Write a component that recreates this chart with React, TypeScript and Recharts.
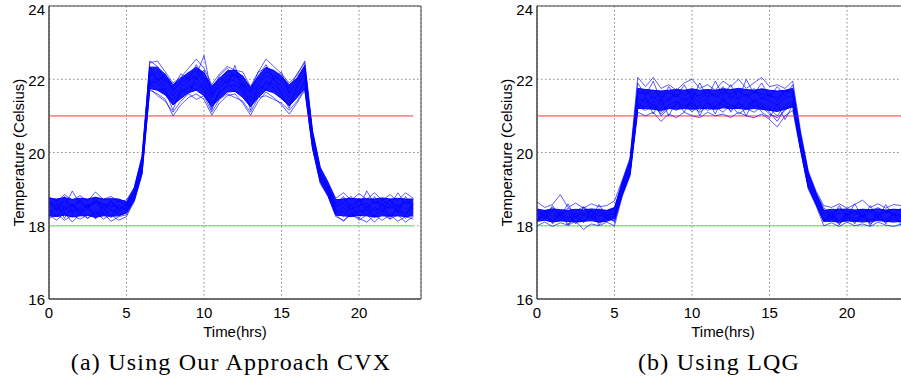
import React from 'react';
import { ComposedChart, Area, Line, XAxis, YAxis, CartesianGrid, ReferenceArea } from 'recharts';

// sample times (hrs)
const hours = [
  0, 0.5, 1, 1.5, 2, 2.5, 3, 3.5, 4, 4.5, 5, 5.5, 6, 6.5, 7, 7.5, 8, 8.5, 9, 9.5, 10, 10.5, 11, 11.5,
  12, 12.5, 13, 13.5, 14, 14.5, 15, 15.5, 16, 16.5, 17, 17.5, 18, 18.5, 19, 19.5, 20, 20.5, 21, 21.5, 22, 22.5, 23, 23.5,
];

const comfortUpper = 21;
const comfortLower = 18;
const xTicks = [0, 5, 10, 15, 20];
const yTicks = [16, 18, 20, 22, 24];

// (a) CVX: dense core of the runs
const cvxLo = [
  18.27, 18.25, 18.29, 18.24, 18.27, 18.28, 18.23, 18.27, 18.26, 18.27, 18.35, 18.7, 19.42, 21.75, 21.7, 21.57,
  21.3, 21.47, 21.63, 21.7, 21.55, 21.25, 21.47, 21.65, 21.67, 21.5, 21.25, 21.5, 21.7, 21.63, 21.47, 21.27,
  21.5, 21.75, 20.12, 19.2, 18.82, 18.29, 18.27, 18.25, 18.28, 18.27, 18.24, 18.27, 18.26, 18.27, 18.25, 18.27,
];
const cvxHi = [
  18.75, 18.73, 18.77, 18.72, 18.75, 18.73, 18.78, 18.73, 18.74, 18.73, 18.65, 19.03, 19.88, 22.33, 22.33, 22.13,
  21.85, 22.03, 22.18, 22.33, 22.18, 21.81, 22.03, 22.23, 22.25, 22.08, 21.78, 22.08, 22.33, 22.23, 22.08, 21.85,
  22.03, 22.38, 20.58, 19.58, 19.18, 18.71, 18.73, 18.75, 18.73, 18.74, 18.73, 18.76, 18.73, 18.75, 18.73, 18.73,
];
// (a) CVX: individual runs
const cvxRunA = [
  18.8, 18.65, 18.85, 18.7, 18.82, 18.68, 18.92, 18.72, 18.8, 18.66, 18.7, 19.05, 19.9, 22.45, 22.5, 22.2,
  21.9, 22.05, 22.3, 22.55, 22.3, 21.85, 22.15, 22.35, 22.25, 22.2, 21.8, 22.2, 22.55, 22.35, 22.15, 21.9,
  22.1, 22.5, 20.6, 19.6, 19.2, 18.75, 18.9, 18.7, 18.88, 18.72, 18.9, 18.7, 18.85, 18.68, 18.9, 18.75,
];
const cvxRunB = [
  18.2, 18.32, 18.15, 18.28, 18.18, 18.3, 18.22, 18.35, 18.12, 18.25, 18.3, 18.65, 19.4, 21.7, 21.6, 21.45,
  21.0, 21.3, 21.5, 21.6, 21.45, 21.02, 21.35, 21.55, 21.6, 21.35, 21.02, 21.4, 21.65, 21.5, 21.3, 21.05,
  21.35, 21.7, 20.1, 19.15, 18.8, 18.25, 18.15, 18.3, 18.2, 18.1, 18.28, 18.15, 18.3, 18.12, 18.25, 18.18,
];
const cvxRunC = [
  18.5, 18.6, 18.45, 18.58, 18.4, 18.55, 18.62, 18.48, 18.57, 18.5, 18.45, 18.85, 19.7, 22.1, 22.2, 21.85,
  21.55, 21.8, 21.95, 22.1, 22.65, 21.6, 21.8, 22.0, 21.95, 21.8, 21.5, 21.85, 22.1, 22.0, 21.8, 21.5,
  21.75, 22.15, 20.35, 19.4, 19.0, 18.5, 18.6, 18.45, 18.55, 18.62, 18.4, 18.55, 18.48, 18.6, 18.45, 18.55,
];
const cvxRunD = [
  18.35, 18.5, 18.4, 18.62, 18.36, 18.45, 18.3, 18.58, 18.42, 18.38, 18.5, 18.9, 19.6, 21.9, 21.7, 21.75,
  21.3, 21.6, 21.85, 21.7, 21.9, 21.35, 21.6, 21.85, 22.38, 21.6, 21.25, 21.6, 21.9, 21.75, 21.5, 21.3,
  21.5, 22.0, 20.25, 19.3, 18.95, 18.4, 18.5, 18.35, 18.45, 18.3, 18.5, 18.38, 18.55, 18.4, 18.35, 18.5,
];
const cvxRunE = [
  18.65, 18.45, 18.7, 18.55, 18.68, 18.52, 18.66, 18.6, 18.5, 18.68, 18.55, 18.95, 19.8, 22.2, 22.0, 22.05,
  21.7, 21.9, 22.05, 22.25, 21.95, 21.5, 21.9, 22.1, 22.1, 21.95, 21.6, 21.95, 22.2, 22.1, 21.95, 21.65,
  21.9, 22.25, 20.45, 19.45, 19.1, 18.6, 18.75, 18.55, 18.7, 18.5, 18.65, 18.6, 18.7, 18.5, 18.65, 18.6,
];
const cvxRunF = [
  18.42, 18.25, 18.52, 18.35, 18.5, 18.2, 18.4, 18.28, 18.45, 18.3, 18.35, 18.75, 19.5, 21.95, 21.9, 21.6,
  21.45, 21.65, 21.75, 21.9, 21.7, 21.2, 21.65, 21.8, 21.85, 21.7, 21.4, 21.7, 21.95, 21.85, 21.65, 21.4,
  21.65, 21.9, 20.2, 19.25, 18.9, 18.35, 18.4, 18.25, 18.38, 18.45, 18.22, 18.4, 18.28, 18.45, 18.2, 18.38,
];
const cvxRunG = [
  18.75, 18.4, 18.8, 18.38, 18.72, 18.45, 18.78, 18.35, 18.7, 18.42, 18.6, 18.95, 19.75, 22.35, 21.95, 22.15,
  21.65, 21.95, 22.2, 22.0, 22.25, 21.55, 22.05, 21.9, 22.2, 21.85, 21.65, 22.1, 22.4, 22.0, 22.2, 21.6,
  22.0, 22.3, 20.5, 19.5, 19.05, 18.6, 18.8, 18.4, 18.75, 18.38, 18.8, 18.42, 18.72, 18.36, 18.8, 18.45,
];
const cvxRunH = [
  18.25, 18.6, 18.2, 18.55, 18.28, 18.62, 18.18, 18.5, 18.22, 18.58, 18.4, 18.8, 19.55, 21.85, 22.05, 21.7,
  21.15, 21.75, 21.6, 22.05, 21.75, 21.15, 21.75, 21.95, 21.65, 21.9, 21.15, 21.85, 21.7, 22.05, 21.6, 21.2,
  21.85, 22.15, 20.3, 19.35, 18.92, 18.45, 18.25, 18.6, 18.2, 18.55, 18.25, 18.62, 18.18, 18.55, 18.28, 18.6,
];
const cvxRunI = [
  18.55, 18.7, 18.5, 18.95, 18.6, 18.48, 18.7, 18.55, 18.65, 18.45, 18.55, 18.9, 19.65, 22.5, 22.35, 21.95,
  21.75, 22.15, 22.0, 22.4, 22.05, 21.7, 22.1, 22.3, 22.05, 22.1, 21.7, 22.2, 22.3, 22.25, 22.1, 21.75,
  22.15, 22.45, 20.4, 19.45, 19.05, 18.55, 18.65, 18.8, 18.5, 18.95, 18.6, 18.7, 18.55, 18.9, 18.6, 18.7,
];
const cvxRunJ = [
  18.3, 18.15, 18.35, 18.1, 18.32, 18.2, 18.38, 18.18, 18.3, 18.15, 18.25, 18.7, 19.45, 21.75, 21.55, 21.4,
  21.1, 21.4, 21.6, 21.45, 21.55, 21.1, 21.45, 21.6, 21.5, 21.4, 21.1, 21.5, 21.55, 21.45, 21.35, 21.15,
  21.4, 21.75, 20.15, 19.2, 18.82, 18.3, 18.12, 18.35, 18.15, 18.3, 18.1, 18.32, 18.18, 18.3, 18.1, 18.25,
];

// (b) LQG: dense core of the runs
const lqgLo = [
  18.12, 18.15, 18.1, 18.13, 18.12, 18.1, 18.12, 18.14, 18.1, 18.12, 18.2, 18.85, 19.4, 21.2, 21.2, 21.18,
  21.15, 21.2, 21.18, 21.2, 21.18, 21.2, 21.2, 21.18, 21.22, 21.2, 21.2, 21.18, 21.2, 21.18, 21.15, 21.12,
  21.18, 21.25, 20.1, 19.05, 18.6, 18.12, 18.12, 18.1, 18.13, 18.12, 18.1, 18.12, 18.14, 18.12, 18.1, 18.12,
];
const lqgHi = [
  18.45, 18.42, 18.46, 18.44, 18.42, 18.45, 18.43, 18.46, 18.44, 18.42, 18.5, 19.2, 19.8, 21.75, 21.72, 21.7,
  21.68, 21.7, 21.72, 21.7, 21.74, 21.7, 21.72, 21.7, 21.74, 21.72, 21.75, 21.72, 21.7, 21.74, 21.7, 21.68,
  21.7, 21.75, 20.5, 19.45, 18.9, 18.42, 18.45, 18.44, 18.46, 18.43, 18.45, 18.44, 18.46, 18.43, 18.45, 18.44,
];
// (b) LQG: individual runs
const lqgRunA = [
  18.65, 18.5, 18.58, 18.85, 18.5, 18.62, 18.48, 18.6, 18.52, 18.55, 18.68, 19.25, 19.85, 22.05, 21.8, 22.05,
  21.75, 21.85, 21.7, 21.9, 22.0, 21.75, 21.85, 21.7, 21.95, 21.8, 22.0, 21.75, 21.9, 22.05, 21.8, 21.85,
  21.75, 21.95, 20.6, 19.5, 18.95, 18.55, 18.5, 18.6, 18.48, 18.58, 18.7, 18.5, 18.6, 18.48, 18.58, 18.55,
];
const lqgRunB = [
  18.0, 18.1, 17.98, 18.08, 18.02, 18.12, 17.9, 18.05, 18.0, 18.1, 18.0, 18.8, 19.35, 21.1, 21.0, 21.1,
  20.85, 21.05, 20.95, 21.1, 21.0, 20.95, 21.1, 21.0, 21.05, 20.95, 21.1, 21.0, 20.95, 21.05, 20.9, 20.7,
  21.0, 21.15, 20.05, 19.0, 18.55, 18.0, 18.08, 17.98, 18.1, 18.0, 18.05, 17.98, 18.1, 18.02, 17.98, 18.05,
];
const lqgRunC = [
  18.3, 18.4, 18.25, 18.38, 18.22, 18.35, 18.28, 18.42, 18.26, 18.36, 18.3, 19.0, 19.6, 21.5, 21.35, 21.55,
  21.3, 21.45, 21.6, 21.4, 21.55, 21.35, 21.5, 21.6, 21.4, 21.55, 21.45, 21.6, 21.35, 21.5, 21.4, 21.3,
  21.5, 21.55, 20.3, 19.25, 18.75, 18.3, 18.22, 18.35, 18.28, 18.4, 18.25, 18.36, 18.24, 18.38, 18.3, 18.26,
];
const lqgRunD = [
  18.2, 18.3, 18.15, 18.32, 18.18, 18.25, 18.35, 18.2, 18.3, 18.22, 18.25, 18.95, 19.5, 21.35, 21.5, 21.25,
  21.1, 21.3, 21.4, 21.25, 21.35, 21.15, 21.35, 21.25, 21.4, 21.3, 21.2, 21.4, 21.25, 21.35, 21.2, 21.0,
  21.3, 21.4, 20.2, 19.15, 18.65, 18.2, 18.3, 18.15, 18.32, 18.2, 18.28, 18.15, 18.3, 18.18, 18.32, 18.2,
];
const lqgRunE = [
  18.45, 18.35, 18.5, 18.3, 18.48, 18.4, 18.52, 18.38, 18.46, 18.4, 18.45, 19.1, 19.7, 21.65, 21.6, 21.7,
  21.5, 21.65, 21.5, 21.7, 21.6, 21.55, 21.7, 21.5, 21.65, 21.6, 21.7, 21.5, 21.65, 21.6, 21.55, 21.5,
  21.65, 21.7, 20.45, 19.4, 18.85, 18.42, 18.35, 18.48, 18.4, 18.3, 18.45, 18.38, 18.5, 18.35, 18.45, 18.4,
];
const lqgRunF = [
  18.25, 18.2, 18.4, 18.15, 18.35, 18.05, 18.3, 18.12, 18.38, 18.2, 18.15, 18.9, 19.45, 21.3, 21.25, 21.4,
  21.0, 21.2, 21.3, 21.5, 21.25, 21.1, 21.25, 21.4, 21.3, 21.15, 21.35, 21.2, 21.45, 21.3, 21.1, 20.85,
  21.2, 21.35, 20.15, 19.1, 18.62, 18.15, 18.2, 18.05, 18.25, 18.12, 18.2, 18.08, 18.22, 18.1, 18.18, 18.12,
];
const lqgRunG = [
  18.5, 18.2, 18.55, 18.25, 18.6, 18.2, 18.5, 18.22, 18.58, 18.25, 18.5, 19.15, 19.75, 21.9, 21.55, 21.95,
  21.4, 21.8, 21.5, 21.85, 21.45, 21.9, 21.5, 21.95, 21.55, 21.85, 21.45, 22.0, 21.6, 21.9, 21.5, 21.8,
  21.55, 21.85, 20.5, 19.42, 18.88, 18.5, 18.2, 18.55, 18.25, 18.6, 18.22, 18.55, 18.2, 18.58, 18.25, 18.5,
];
const lqgRunH = [
  18.1, 18.4, 18.05, 18.38, 18.0, 18.35, 18.08, 18.42, 18.02, 18.3, 18.1, 18.85, 19.4, 21.2, 21.5, 21.05,
  21.45, 21.0, 21.4, 21.1, 21.5, 21.0, 21.45, 21.05, 21.5, 21.1, 21.4, 21.0, 21.45, 21.1, 20.95, 21.3,
  20.9, 21.3, 20.1, 19.05, 18.58, 18.1, 18.4, 18.02, 18.35, 18.05, 18.42, 18.0, 18.38, 18.05, 18.35, 18.0,
];
const lqgRunI = [
  18.35, 18.28, 18.45, 18.3, 18.4, 18.25, 18.5, 18.3, 18.4, 18.28, 18.35, 19.05, 19.65, 21.6, 21.7, 21.45,
  21.65, 21.4, 21.75, 21.55, 21.7, 21.45, 21.65, 21.55, 21.8, 21.45, 21.7, 21.55, 21.75, 21.45, 21.6, 21.4,
  21.7, 21.6, 20.35, 19.3, 18.78, 18.35, 18.3, 18.45, 18.32, 18.42, 18.28, 18.45, 18.3, 18.4, 18.35, 18.3,
];
const lqgRunJ = [
  18.15, 18.25, 18.1, 18.3, 18.05, 18.22, 18.12, 18.28, 18.08, 18.2, 18.12, 18.85, 19.45, 21.25, 21.15, 21.3,
  21.05, 21.25, 21.15, 21.35, 21.1, 21.3, 21.15, 21.25, 21.1, 21.3, 21.05, 21.2, 21.1, 21.25, 21.05, 20.95,
  21.15, 21.3, 20.1, 19.08, 18.6, 18.12, 18.25, 18.08, 18.22, 18.1, 18.28, 18.05, 18.2, 18.1, 18.25, 18.08,
];

const buildRows = (lo: number[], hi: number[], runs: number[][]) =>
  hours.map((t, i) => {
    const row: Record<string, any> = { t, band: [lo[i], hi[i]], upper: comfortUpper, lower: comfortLower };
    runs.forEach((r, k) => (row['run' + k] = r[i]));
    return row;
  });

const cvxRuns = [cvxRunA, cvxRunB, cvxRunC, cvxRunD, cvxRunE, cvxRunF, cvxRunG, cvxRunH, cvxRunI, cvxRunJ];
const lqgRuns = [lqgRunA, lqgRunB, lqgRunC, lqgRunD, lqgRunE, lqgRunF, lqgRunG, lqgRunH, lqgRunI, lqgRunJ];
const cvxRows = buildRows(cvxLo, cvxHi, cvxRuns);
const lqgRows = buildRows(lqgLo, lqgHi, lqgRuns);

const sans = '"Liberation Sans", Arial, Helvetica, sans-serif';

interface PanelProps {
  rows: Record<string, any>[];
  runCount: number;
  caption: string;
  left: number;
}

const Panel: React.FC<PanelProps> = ({ rows, runCount, caption, left }) => (
  <div style={{ position: 'absolute', left, top: 0, width: 462, height: 381 }}>
    <ComposedChart width={430} height={340} data={rows} margin={{ top: 6, right: 9, bottom: 0, left: 0 }}>
      <CartesianGrid stroke="#8a8a8a" strokeDasharray="1.5 2.5" />
      <XAxis
        type="number"
        dataKey="t"
        domain={[0, 24]}
        ticks={xTicks}
        allowDataOverflow
        height={41}
        tickLine={false}
        tickSize={0}
        tickMargin={8}
        stroke="#444"
        tick={{ fill: '#000', fontSize: 15, fontFamily: sans }}
        label={{ value: 'Time(hrs)', position: 'center', dy: 12, fill: '#000', fontSize: 15, fontFamily: sans }}
      />
      <YAxis
        type="number"
        domain={[16, 24]}
        ticks={yTicks}
        allowDataOverflow
        width={49}
        tickLine={false}
        tickSize={0}
        tickMargin={4}
        stroke="#444"
        tick={{ fill: '#000', fontSize: 15, fontFamily: sans, dy: 1 }}
        label={{ value: 'Temperature (Celsius)', angle: -90, position: 'center', dx: -6, fill: '#000', fontSize: 15, fontFamily: sans }}
      />
      <ReferenceArea x1={0} x2={24} y1={16} y2={24} fill="none" stroke="#444" strokeWidth={1} ifOverflow="visible" />
      <Line dataKey="upper" stroke="#ff8a8a" strokeWidth={1.6} dot={false} isAnimationActive={false} />
      <Line dataKey="lower" stroke="#66e066" strokeWidth={1.2} dot={false} isAnimationActive={false} />
      <Area
        dataKey="band"
        type="linear"
        stroke="#0000ff"
        strokeWidth={1}
        fill="#0000ff"
        fillOpacity={0.9}
        isAnimationActive={false}
      />
      {Array.from({ length: runCount }, (_, k) => (
        <Line
          key={k}
          dataKey={'run' + k}
          type="linear"
          stroke="#0000ff"
          strokeWidth={0.8}
          strokeOpacity={0.8}
          dot={false}
          isAnimationActive={false}
        />
      ))}
    </ComposedChart>
    <div
      style={{
        position: 'absolute',
        left: 0,
        top: 350,
        width: 462,
        textAlign: 'center',
        fontFamily: '"Liberation Serif", "Times New Roman", serif',
        fontSize: 24,
        lineHeight: '24px',
        letterSpacing: 1.2,
        color: '#000',
      }}
    >
      {caption}
    </div>
  </div>
);

export default function App() {
  return (
    <div style={{ position: 'fixed', left: 0, top: 0, width: 901, height: 381, overflow: 'hidden', background: '#fff' }}>
      <Panel rows={cvxRows} runCount={cvxRuns.length} caption="(a) Using Our Approach CVX" left={0} />
      <Panel rows={lqgRows} runCount={lqgRuns.length} caption="(b) Using LQG" left={488} />
    </div>
  );
}
